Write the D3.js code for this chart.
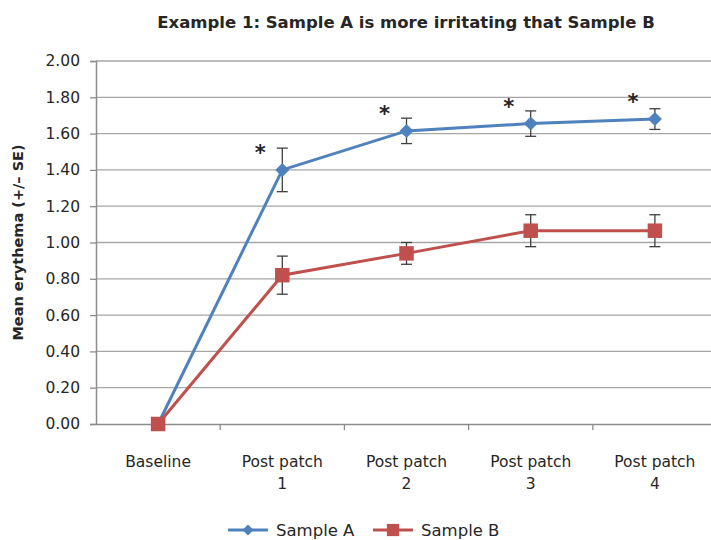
<!DOCTYPE html>
<html>
<head>
<meta charset="utf-8">
<script src="https://cdn.jsdelivr.net/npm/d3@7"></script>
<style>
  body { margin: 0; background: #fff; }
  text { font-family: "DejaVu Sans", Verdana, sans-serif; fill: #262626; }
</style>
</head>
<body>
<svg></svg>
<script>
// categories and series
const categories = ["Baseline", "Post patch\n1", "Post patch\n2", "Post patch\n3", "Post patch\n4"];
const sampleA = [0, 1.40, 1.615, 1.655, 1.68];
const sampleAErr = [0, 0.12, 0.07, 0.07, 0.057];
const sampleB = [0, 0.82, 0.94, 1.065, 1.065];
const sampleBErr = [0, 0.105, 0.06, 0.088, 0.088];
const significant = [false, true, true, true, true];
const yTicks = [0, 0.2, 0.4, 0.6, 0.8, 1.0, 1.2, 1.4, 1.6, 1.8, 2.0];

const width = 711, height = 540, margin = { top: 61, right: -6, bottom: 116, left: 96 };
const blue = "#4f81bd", red = "#c0504d";

const svg = d3.select("svg")
  .attr("width", width)
  .attr("height", height);

const x = d3.scaleBand()
  .domain(categories)
  .range([margin.left, width - margin.right]);

const y = d3.scaleLinear()
  .domain([0, 2])
  .range([height - margin.bottom, margin.top]);

const cx = d => x(d) + x.bandwidth() / 2;

// gridlines
svg.append("g")
  .selectAll("line")
  .data(yTicks.slice(1))
  .enter()
  .append("line")
  .attr("x1", margin.left)
  .attr("x2", width)
  .attr("y1", d => y(d))
  .attr("y2", d => y(d))
  .attr("stroke", "#a6a6a6")
  .attr("stroke-width", 1.3);

// Y axis
const yAxis = svg.append("g")
  .attr("transform", `translate(${margin.left},0)`)
  .call(d3.axisLeft(y).tickValues(yTicks).tickFormat(d3.format(".2f")).tickSize(6).tickPadding(10));
yAxis.select(".domain").attr("stroke", "#8c8c8c").attr("stroke-width", 1.5);
yAxis.selectAll(".tick line").attr("stroke", "#8c8c8c").attr("stroke-width", 1.3);
yAxis.selectAll("text")
  .style("font-size", "15.5px")
  .attr("fill", "#333");

// X axis
const xAxis = svg.append("g")
  .attr("transform", `translate(0,${y(0)})`)
  .call(d3.axisBottom(x).tickSize(0).tickFormat(""));
xAxis.select(".domain").attr("stroke", "#8c8c8c").attr("stroke-width", 1.5);

// x tick marks between categories
svg.append("g")
  .selectAll("line")
  .data(categories.slice(1))
  .enter()
  .append("line")
  .attr("x1", d => x(d))
  .attr("x2", d => x(d))
  .attr("y1", y(0))
  .attr("y2", y(0) + 6)
  .attr("stroke", "#8c8c8c")
  .attr("stroke-width", 1.3);

// x labels (two lines)
const xl = svg.append("g")
  .selectAll("text")
  .data(categories)
  .enter()
  .append("text")
  .attr("x", d => cx(d))
  .attr("y", y(0) + 43)
  .style("text-anchor", "middle")
  .style("font-size", "15.5px")
  .attr("fill", "#333");
xl.selectAll("tspan")
  .data(d => d.split("\n"))
  .enter()
  .append("tspan")
  .attr("x", function () { return d3.select(this.parentNode).attr("x"); })
  .attr("dy", (d, i) => i ? "1.4em" : 0)
  .text(d => d);

// series
const series = [
  { name: "Sample A", values: sampleA, err: sampleAErr, color: blue, shape: d3.symbolDiamond2, size: 125, lsize: 80 },
  { name: "Sample B", values: sampleB, err: sampleBErr, color: red, shape: d3.symbolSquare, size: 210, lsize: 150 }
];

const line = d3.line()
  .x((d, i) => cx(categories[i]))
  .y(d => y(d));

series.forEach(s => {
  svg.append("path")
    .datum(s.values)
    .attr("fill", "none")
    .attr("stroke", s.color)
    .attr("stroke-width", 3)
    .attr("d", line);
});

// error bars
series.forEach(s => {
  const g = svg.append("g").attr("stroke", "#404040").attr("stroke-width", 1.3);
  s.values.forEach((v, i) => {
    if (!s.err[i]) return;
    const px = cx(categories[i]);
    g.append("line").attr("x1", px).attr("x2", px).attr("y1", y(v + s.err[i])).attr("y2", y(v - s.err[i]));
    g.append("line").attr("x1", px - 5.5).attr("x2", px + 5.5).attr("y1", y(v + s.err[i])).attr("y2", y(v + s.err[i]));
    g.append("line").attr("x1", px - 5.5).attr("x2", px + 5.5).attr("y1", y(v - s.err[i])).attr("y2", y(v - s.err[i]));
  });
});

// markers
series.forEach(s => {
  svg.append("g")
    .selectAll("path")
    .data(s.values)
    .enter()
    .append("path")
    .attr("transform", (d, i) => `translate(${cx(categories[i])},${y(d)})`)
    .attr("d", d3.symbol().type(s.shape).size(s.size))
    .attr("fill", s.color);
});

// significance asterisks
svg.append("g")
  .selectAll("text")
  .data(sampleA)
  .enter()
  .filter((d, i) => significant[i])
  .append("text")
  .attr("x", (d, i) => cx(categories[i + 1]) - 22)
  .attr("y", d => y(d) - 10)
  .style("text-anchor", "middle")
  .style("font-size", "21px")
  .style("font-weight", "bold")
  .attr("fill", "#111")
  .text("*");

// title
svg.append("text")
  .attr("x", 406)
  .attr("y", 28)
  .style("text-anchor", "middle")
  .style("font-size", "16.5px")
  .style("font-weight", "bold")
  .text("Example 1: Sample A is more irritating that Sample B");

// Y-axis label
svg.append("text")
  .attr("transform", "rotate(-90)")
  .attr("x", -y(1))
  .attr("y", 23)
  .style("text-anchor", "middle")
  .style("font-size", "14.5px")
  .style("font-weight", "bold")
  .text("Mean erythema (+/\u2013 SE)");

// legend
const legend = svg.append("g").attr("transform", "translate(0,530)");
const legendX = [228, 373];
series.forEach((s, i) => {
  const g = legend.append("g").attr("transform", `translate(${legendX[i]},0)`);
  g.append("line").attr("x1", 0).attr("x2", 40).attr("stroke", s.color).attr("stroke-width", 3);
  g.append("path")
    .attr("transform", "translate(20,0)")
    .attr("d", d3.symbol().type(s.shape).size(s.lsize))
    .attr("fill", s.color);
  g.append("text")
    .attr("x", 48)
    .attr("y", 6)
    .style("font-size", "16.5px")
    .attr("fill", "#333")
    .text(s.name);
});
</script>
</body>
</html>
